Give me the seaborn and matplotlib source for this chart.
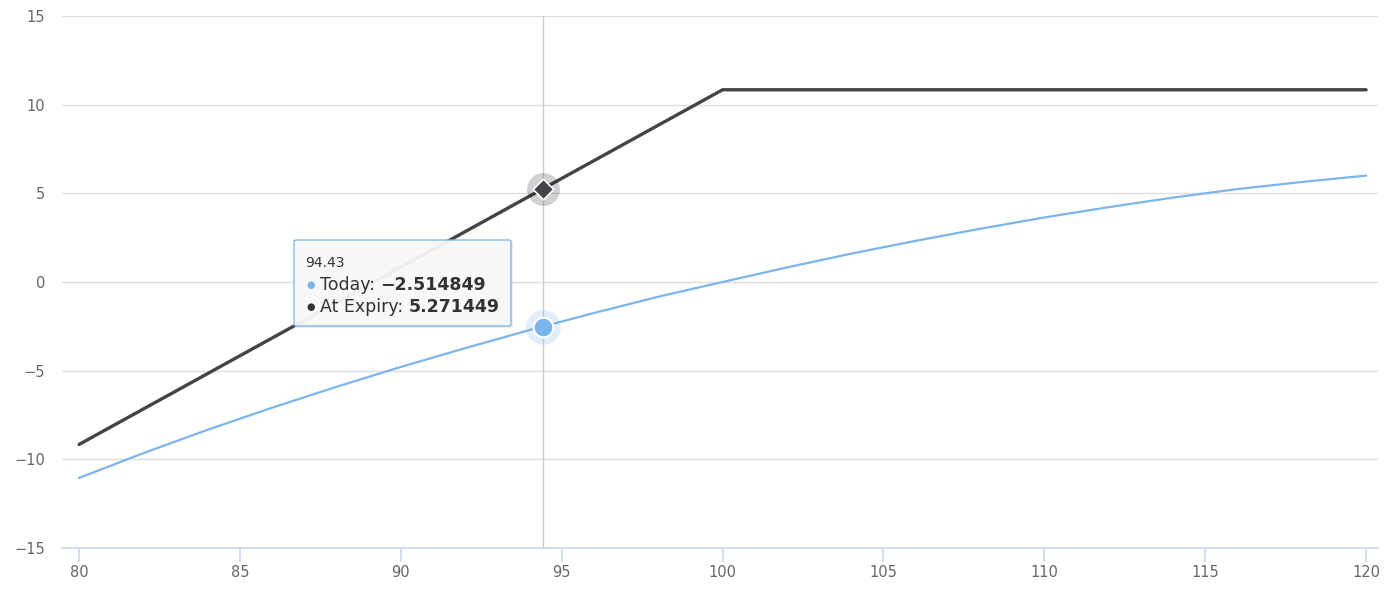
import matplotlib
matplotlib.use("Agg")
import matplotlib.pyplot as plt
import seaborn as sns
import pandas as pd

# ---- data ----
today_x = [80, 82, 84, 86, 88, 90, 92, 94, 96, 98, 100, 102, 104, 106, 108, 110, 112, 114, 116, 118, 120]
today_y = [-11.05, -9.65, -8.33, -7.09, -5.91, -4.79, -3.73, -2.71, -1.75, -0.83, 0.0, 0.82, 1.60,
           2.32, 3.00, 3.64, 4.22, 4.76, 5.24, 5.64, 6.0]
expiry_x = [80, 100, 120]
expiry_y = [-9.16, 10.84, 10.84]

hover_x = 94.43
hover_today = -2.514849
hover_expiry = 5.271449

x_ticks = [80, 85, 90, 95, 100, 105, 110, 115, 120]
y_ticks = [-15, -10, -5, 0, 5, 10, 15]

BLUE = "#7cb5ec"
DARK = "#434348"

sns.set_theme(style="white")
plt.rcParams['font.family'] = ['DejaVu Sans']

fig = plt.figure(figsize=(13.96, 6.02), dpi=100)
ax = fig.add_axes([62/1396, 1-548/602, (1378-62)/1396, (548-16)/602])

df_today = pd.DataFrame({"x": today_x, "y": today_y})
df_exp = pd.DataFrame({"x": expiry_x, "y": expiry_y})

sns.lineplot(data=df_today, x="x", y="y", ax=ax, color=BLUE, linewidth=1.6, zorder=3,
             solid_capstyle="round", solid_joinstyle="round")
sns.lineplot(data=df_exp, x="x", y="y", ax=ax, color=DARK, linewidth=2.4, zorder=4,
             solid_capstyle="round", solid_joinstyle="miter")

ax.set_xlim(79.47, 120.37)
ax.set_ylim(-15, 15)
ax.set_xticks(x_ticks)
ax.set_yticks(y_ticks)
ax.set_xlabel("")
ax.set_ylabel("")

for yv in y_ticks[1:]:
    ax.axhline(yv, color="#dedede", linewidth=1.0, zorder=1)

for s in ["top", "right", "left"]:
    ax.spines[s].set_visible(False)
ax.spines["bottom"].set_color("#ccd6eb")
ax.spines["bottom"].set_linewidth(1.2)

ax.tick_params(axis="x", bottom=True, colors="#ccd6eb", length=10, width=1.2, direction="out", pad=2,
               labelcolor="#666666", labelsize=10.5)
ax.tick_params(axis="y", left=False, length=0, pad=12, labelcolor="#666666", labelsize=10.5)
ax.set_yticklabels([str(v).replace("-", "\u2212") for v in y_ticks])
ax.set_xticklabels([str(v) for v in x_ticks])

# crosshair
ax.axvline(hover_x, color="#cccccc", linewidth=1.0, zorder=2)

# hover markers
ax.scatter([hover_x], [hover_expiry], s=560, color="#000000", alpha=0.18, linewidths=0, zorder=5)
ax.scatter([hover_x], [hover_expiry], s=110, marker="D", color=DARK, edgecolors="white",
           linewidths=1.2, zorder=6)
ax.scatter([hover_x], [hover_today], s=620, color=BLUE, alpha=0.22, linewidths=0, zorder=5)
ax.scatter([hover_x], [hover_today], s=200, color=BLUE, edgecolors="white",
           linewidths=1.5, zorder=6)

# tooltip box (figure pixel coords)
def px(x, y):
    return (x/1396, 1 - y/602)

from matplotlib.patches import FancyBboxPatch
shadow = FancyBboxPatch(px(296, 328), 217/1396, 86/602, boxstyle="round,pad=0,rounding_size=0.002",
                        transform=fig.transFigure, facecolor="#000000", alpha=0.08,
                        edgecolor="none", zorder=9)
fig.patches.append(shadow)
box = FancyBboxPatch(px(294, 326), 217/1396, 86/602, boxstyle="round,pad=0,rounding_size=0.002",
                     transform=fig.transFigure, facecolor="#f9f9f9", alpha=0.95,
                     edgecolor=BLUE, linewidth=1.0, zorder=10)
fig.patches.append(box)

fig.text(*px(305, 263), f"{hover_x:.2f}", fontsize=10, color="#333333", va="center",
         ha="left", zorder=11)

fig.text(*px(306, 285), "\u25CF", fontsize=7, color=BLUE, va="center", ha="left", zorder=11)
fig.text(*px(306, 307), "\u25CF", fontsize=7, color="#333333", va="center", ha="left", zorder=11)

t1 = fig.text(*px(320, 285), "Today: ", fontsize=12.5, color="#333333", va="center", ha="left", zorder=11)
t2 = fig.text(*px(320, 307), "At Expiry: ", fontsize=12.5, color="#333333", va="center", ha="left", zorder=11)
fig.canvas.draw()
r = fig.canvas.get_renderer()
e1 = t1.get_window_extent(r)
e2 = t2.get_window_extent(r)
fig.text(e1.x1 / fig.bbox.width, 1 - 285/602, f"{hover_today:.6f}".replace("-", "\u2212"),
         fontsize=12.5, fontweight="bold", color="#333333", va="center", ha="left", zorder=11)
fig.text(e2.x1 / fig.bbox.width, 1 - 307/602, f"{hover_expiry:.6f}",
         fontsize=12.5, fontweight="bold", color="#333333", va="center", ha="left", zorder=11)

fig.savefig("out.png", dpi=100, facecolor="white")
